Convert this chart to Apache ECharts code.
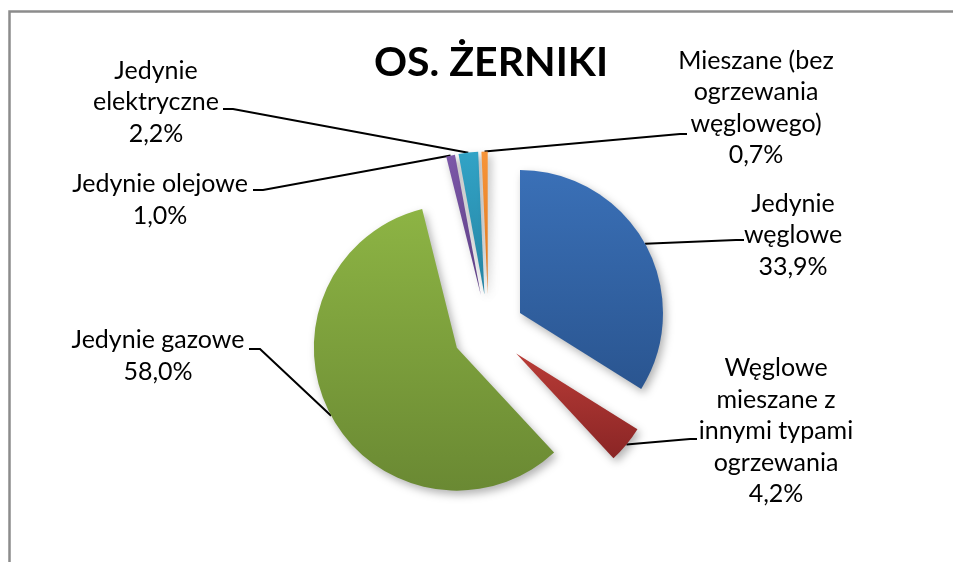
<!DOCTYPE html>
<html>
<head>
<meta charset="utf-8">
<script src="https://cdn.jsdelivr.net/npm/echarts@6/dist/echarts.min.js"></script>
<style>
  html, body { margin: 0; padding: 0; background: #fff; }
  #chart { width: 953px; height: 562px; }
</style>
</head>
<body>
<div id="chart"></div>
<script>
// ---- data ----
const chartTitle = 'OS. ŻERNIKI';
const categories = [
  'Jedynie\nwęglowe',
  'Węglowe\nmieszane z\ninnymi typami\nogrzewania',
  'Jedynie gazowe',
  'Jedynie olejowe',
  'Jedynie\nelektryczne',
  'Mieszane (bez\nogrzewania\nwęglowego)'
];
const shares = [33.9, 4.2, 58.0, 1.0, 2.2, 0.7];

// ---- styles / layout ----
const sliceColors = [
  ['#3A70B7', '#2A5590'],
  ['#B93C37', '#8A2525'],
  ['#8DB444', '#6A8933'],
  ['#7C58A8', '#5E3F86'],
  ['#32A3C6', '#2584A3'],
  ['#F7953A', '#E0761A']
];
const CX = 488.5, CY = 330.5, R = 143, OFFSET = 36;
// label block centre, leader-line turn point and end point
const labelPlace = [
  { x: 793, y: 235, turn: [736, 240], end: [744, 240] },
  { x: 776, y: 431, turn: [690, 439], end: [697, 439] },
  { x: 158, y: 356, turn: [260, 349], end: [249, 349] },
  { x: 160, y: 200, turn: [263, 190], end: [253, 190] },
  { x: 156, y: 102, turn: [233, 109], end: [223, 109] },
  { x: 756, y: 108, turn: [680, 134], end: [687, 134] }
];

const fmt = v => v.toFixed(1).replace('.', ',') + '%';

const chart = echarts.init(document.getElementById('chart'));
chart.setOption({
  animation: false,
  backgroundColor: '#ffffff',
  title: {
    text: chartTitle,
    left: 486,
    top: 37,
    textAlign: 'center',
    textStyle: { fontFamily: 'Lato', fontWeight: 'bold', fontSize: 41, color: '#000' }
  },
  graphic: [{
    type: 'rect', z: -10,
    shape: { x: 9.5, y: 11.5, width: 1000, height: 600 },
    style: { fill: null, stroke: '#8c8c8c', lineWidth: 2.5 }
  }],
  series: [{
    // exploded slices
    type: 'pie',
    center: [CX, CY],
    radius: R,
    startAngle: 90,
    clockwise: true,
    selectedMode: 'multiple',
    selectedOffset: OFFSET,
    silent: true,
    z: 2,
    data: categories.map((name, i) => ({
      name: name,
      value: shares[i],
      selected: true,
      itemStyle: {
        color: new echarts.graphic.LinearGradient(0, 0, 0, 1, [
          { offset: 0, color: sliceColors[i][0] },
          { offset: 1, color: sliceColors[i][1] }
        ])
      }
    })),
    itemStyle: {
      shadowBlur: 8,
      shadowOffsetX: 3,
      shadowOffsetY: 4,
      shadowColor: 'rgba(0,0,0,0.3)'
    },
    label: { show: false },
    labelLine: { show: false }
  }, {
    // same data, invisible sectors, carries the labels and leader lines
    type: 'pie',
    center: [CX, CY],
    radius: R,
    startAngle: 90,
    clockwise: true,
    silent: true,
    z: 1,
    avoidLabelOverlap: false,
    data: categories.map((name, i) => ({ name: name, value: shares[i] })),
    itemStyle: { color: 'rgba(0,0,0,0)' },
    label: {
      show: true,
      position: 'outside',
      formatter: p => p.name + '\n' + fmt(p.value),
      fontFamily: 'Lato',
      fontSize: 25,
      lineHeight: 31.5,
      color: '#000',
      align: 'center'
    },
    labelLine: {
      show: true,
      length: 20,
      length2: 10,
      lineStyle: { color: '#000', width: 2 }
    },
    labelLayout: function (params) {
      const pl = labelPlace[params.dataIndex];
      const p0 = params.labelLinePoints[0];
      const vx = p0[0] - CX, vy = p0[1] - CY;
      const len = Math.hypot(vx, vy) || 1;
      const start = [p0[0] + vx / len * OFFSET, p0[1] + vy / len * OFFSET];
      return {
        x: pl.x,
        y: pl.y,
        align: 'center',
        verticalAlign: 'middle',
        labelLinePoints: [start, pl.turn, pl.end]
      };
    }
  }]
});
</script>
</body>
</html>
